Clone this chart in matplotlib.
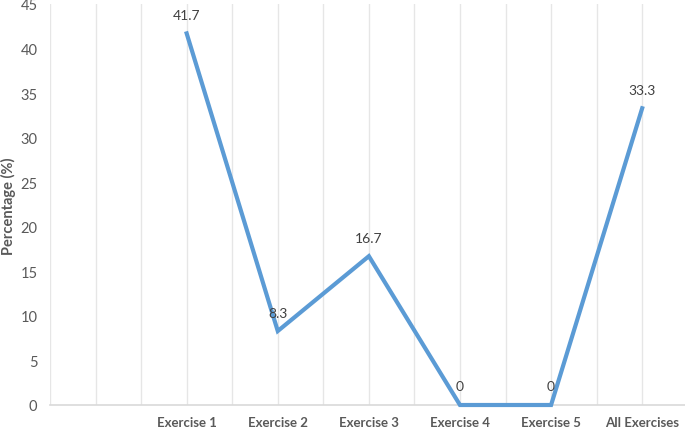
import matplotlib.pyplot as plt
from matplotlib.ticker import MultipleLocator

# Percentage per exercise
categories = ["Exercise 1", "Exercise 2", "Exercise 3", "Exercise 4", "Exercise 5", "All Exercises"]
values = [41.7, 8.3, 16.7, 0, 0, 33.3]
value_labels = ["41.7", "8.3", "16.7", "0", "0", "33.3"]

plt.rcParams['font.family'] = ['Lato', 'DejaVu Sans']

fig = plt.figure(figsize=(6.85, 4.31), dpi=100)
ax = fig.add_axes([50 / 685, 25 / 431, 635 / 685, 401 / 431])

x = list(range(len(categories)))
ax.plot(x, values, color="#5B9BD5", linewidth=3, solid_joinstyle="miter", zorder=3, clip_on=False)

for xi, v, lab in zip(x, values, value_labels):
    ax.annotate(lab, (xi, v), xytext=(0, 9), textcoords="offset points",
                ha="center", va="bottom", fontsize=10, color="#404040", zorder=4)

ax.set_xlim(-1.5, 5.47)
ax.set_ylim(0, 45)
ax.yaxis.set_major_locator(MultipleLocator(5))
ax.set_xticks(x)
ax.set_xticklabels(categories, fontweight="bold", fontsize=9.5, color="#595959")
ax.xaxis.set_minor_locator(MultipleLocator(0.5))
ax.tick_params(axis="y", labelsize=10.5, colors="#595959", length=0, pad=9)
ax.tick_params(axis="x", which="both", length=0, pad=8)

ax.grid(True, axis="x", which="both", color="#E6E6E6", linewidth=1, zorder=0)
ax.grid(False, axis="y")

for s in ["top", "right", "left"]:
    ax.spines[s].set_visible(False)
ax.spines["bottom"].set_color("#D9D9D9")
ax.spines["bottom"].set_linewidth(1.2)

fig.text(8 / 685, 1 - 206 / 431, "Percentage (%)", rotation=90, ha="center", va="center",
         fontweight="bold", fontsize=10.5, color="#595959")

fig.savefig("out.png", dpi=100)
